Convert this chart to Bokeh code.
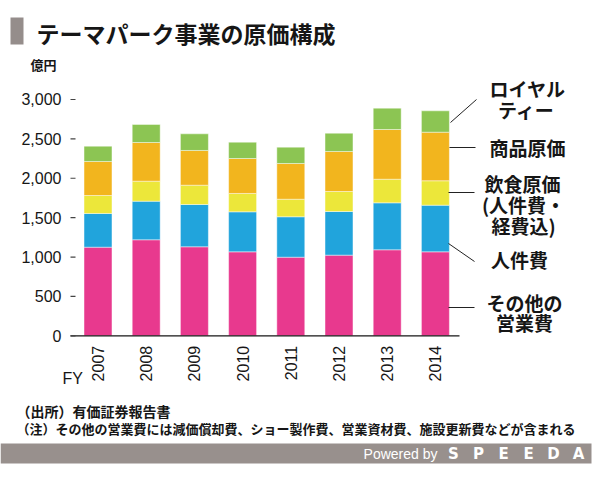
import math

from bokeh.plotting import figure
from bokeh.models import Range1d, Label, BoxAnnotation, Arrow, ColumnDataSource
from bokeh.embed import file_html
from bokeh.resources import INLINE
from bokeh.core.properties import value

# Theme park business cost breakdown (100 million yen)
years = ["2007", "2008", "2009", "2010", "2011", "2012", "2013", "2014"]
other_opex = [1125, 1219, 1130, 1066, 998, 1024, 1092, 1066]   # その他の営業費
personnel = [428, 490, 537, 508, 513, 554, 596, 592]           # 人件費
food_cost = [228, 254, 245, 233, 223, 254, 300, 310]           # 飲食原価
merch_cost = [432, 491, 441, 444, 453, 508, 631, 617]          # 商品原価
royalty = [194, 229, 211, 207, 208, 232, 271, 271]             # ロイヤルティー
y_ticks = [0, 500, 1000, 1500, 2000, 2500, 3000]

stack_keys = ["other", "personnel", "food", "merch", "royalty"]
stack_colors = ["#E8398E", "#21A4DC", "#ECE73A", "#F2B51E", "#8CC553"]

W, H = 599, 482
CJK = "Noto Sans CJK JP"
NUM = "Liberation Sans"
INK = "#161616"

# Plot geometry: the frame fills the whole canvas, the chart area sits inside it.
STEP_PX = 48.2          # distance between bar centres
FIRST_PX = 97.5         # centre of the first bar from the left edge
BASE_PX = 335.3         # zero line from the top edge
PX_PER_UNIT = 0.07877   # vertical pixels per 100 million yen
AREA_LEFT_PX, AREA_RIGHT_PX = 70, 459
TICK_LEN_PX = 5

x_range = Range1d(-FIRST_PX / STEP_PX, (W - FIRST_PX) / STEP_PX)
y_range = Range1d((BASE_PX - H) / PX_PER_UNIT, BASE_PX / PX_PER_UNIT)
x_left = (AREA_LEFT_PX - FIRST_PX) / STEP_PX
x_right = (AREA_RIGHT_PX - FIRST_PX) / STEP_PX

xs = list(range(len(years)))
source = ColumnDataSource(dict(
    x=xs, other=other_opex, personnel=personnel, food=food_cost,
    merch=merch_cost, royalty=royalty,
))

p = figure(width=W, height=H, output_backend="svg", toolbar_location=None,
           x_range=x_range, y_range=y_range, min_border=0,
           x_axis_location=None, y_axis_location=None)
p.outline_line_color = None
p.xgrid.visible = False
p.ygrid.visible = False
p.background_fill_color = "white"
p.border_fill_color = "white"

p.vbar_stack(stack_keys, x="x", width=0.58, source=source,
             fill_color=stack_colors, line_color="white",
             line_width=0.8, line_alpha=0.55)

# baseline of the chart area
p.segment(x0=[x_left], y0=[0], x1=[x_right], y1=[0], line_color=INK, line_width=1.3)

# value scale: short tick dashes and labels
tick_x = x_left + TICK_LEN_PX / 2 / STEP_PX
p.rect(x=[tick_x] * len(y_ticks), y=y_ticks, width=TICK_LEN_PX, height=1.2,
       width_units="screen", height_units="screen",
       fill_color="#444444", line_color=None)
p.text(x=[x_left] * len(y_ticks), y=y_ticks, text=[f"{v:,}" for v in y_ticks],
       x_offset=-9, text_align="right", text_baseline="middle",
       text_font=value(NUM), text_font_size="16px", text_color=INK)

# fiscal-year labels, rotated
p.text(x=xs, y=[0] * len(xs), text=years, angle=math.pi / 2,
       y_offset=10, text_align="right", text_baseline="middle",
       text_font=value(NUM), text_font_size="16px", text_color=INK)


def label(text, x, y, size, align="left", font=CJK, bold=True, color=INK, baseline="middle"):
    p.add_layout(Label(x=x, y=H - y, x_units="screen", y_units="screen",
                       text=text, text_font=font, text_font_size=f"{size}px",
                       text_font_style="bold" if bold else "normal",
                       text_align=align, text_baseline=baseline,
                       text_color=color))


def leader(x0, y0, x1, y1):
    p.add_layout(Arrow(end=None, x_start=x0, y_start=H - y0, x_end=x1, y_end=H - y1,
                       start_units="screen", end_units="screen",
                       line_color="#222222", line_width=1))


def block(left, right, top, bottom, color):
    p.add_layout(BoxAnnotation(left=left, right=right, top=H - top, bottom=H - bottom,
                               left_units="screen", right_units="screen",
                               top_units="screen", bottom_units="screen",
                               fill_color=color, fill_alpha=1, line_color=None))


# heading
block(10, 23, 17, 44, "#958d8b")
label("テーマパーク事業の原価構成", 36, 32, 23)
label("億円", 30, 64, 13)
label("FY", 62, 378, 16, font=NUM, bold=False, baseline="alphabetic")

# series labels with leader lines to the last bar
label("ロイヤル", 527, 88, 19, align="center")
label("ティー", 526, 109, 19, align="center")
leader(450, 122, 476, 99)
label("商品原価", 527, 147, 19, align="center")
leader(449, 147, 475, 147)
label("飲食原価", 522, 183, 19, align="center")
label("(人件費・", 523, 204, 19, align="center")
label("経費込)", 523, 225, 19, align="center")
leader(448, 192, 474, 192)
label("人件費", 519, 259, 19, align="center")
leader(448, 243, 474, 261)
label("その他の", 524, 302, 19, align="center")
label("営業費", 524, 322, 19, align="center")
leader(448, 307, 474, 307)

# notes
label("（出所）有価証券報告書", 16, 410, 14)
label("（注）その他の営業費には減価償却費、ショー製作費、営業資材費、施設更新費などが含まれる", 16, 428, 13)

# footer band
block(0, 591, 443, 463, "#98908d")
label("Powered by", 437, 453, 14, align="right", font=NUM, bold=False, color="white")
for i, ch in enumerate("SPEEDA"):
    label(ch, 453 + 25 * i, 453, 15, align="center", font="DejaVu Sans", bold=True, color="white")

open("out.html", "w").write(file_html(p, INLINE))
